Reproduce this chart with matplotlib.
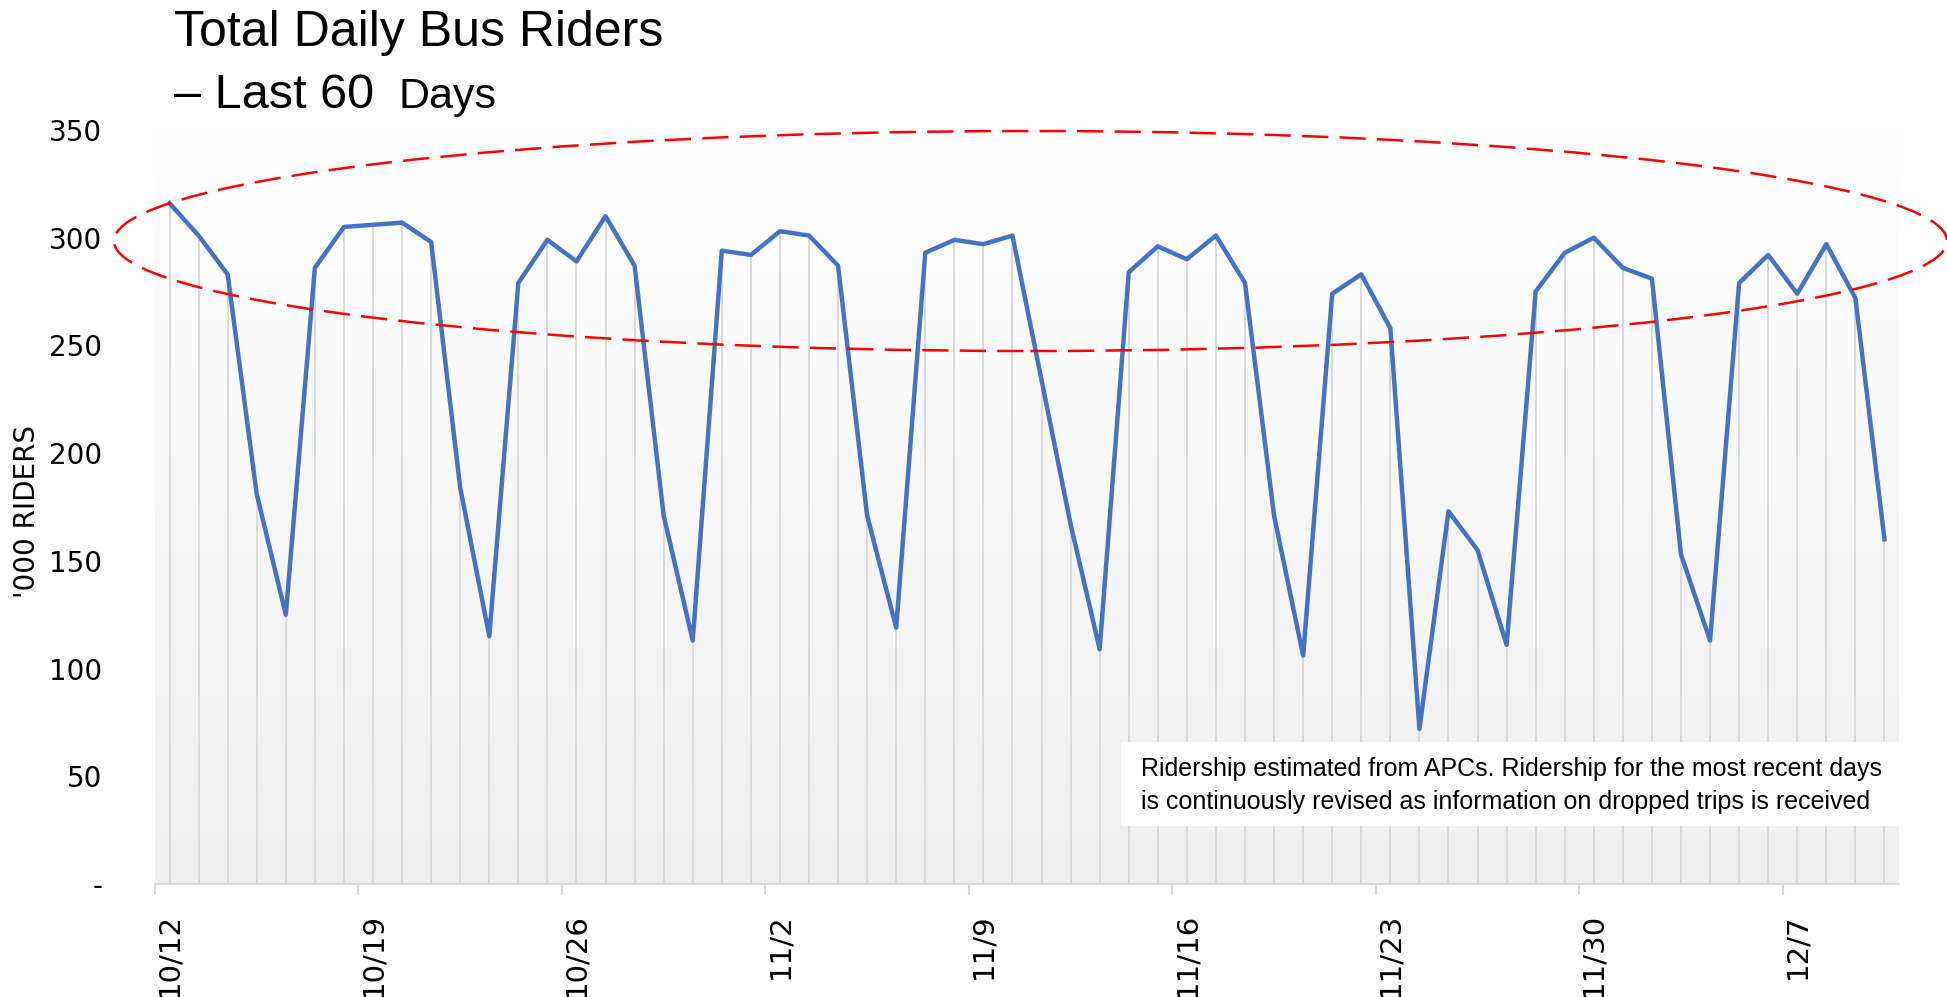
import matplotlib.pyplot as plt
import numpy as np
from matplotlib.colors import LinearSegmentedColormap
from matplotlib.patches import Ellipse, Rectangle

# daily riders ('000), 10/12 .. 12/10
riders = [316, 301, 283, 181, 125, 286, 305, 306, 307, 298,
          184, 115, 279, 299, 289, 310, 287, 171, 113, 294,
          292, 303, 301, 287, 171, 119, 293, 299, 297, 301,
          234, 167, 109, 284, 296, 290, 301, 279, 171, 106,
          274, 283, 258, 72, 173, 155, 111, 275, 293, 300,
          286, 281, 153, 113, 279, 292, 274, 297, 272, 160]
tick_labels = ["10/12", "10/19", "10/26", "11/2", "11/9", "11/16", "11/23", "11/30", "12/7"]
y_ticks = [0, 50, 100, 150, 200, 250, 300, 350]
y_tick_labels = ["-", "50", "100", "150", "200", "250", "300", "350"]

W, H = 1947, 997
fig = plt.figure(figsize=(W / 100, H / 100), dpi=100)
ax = fig.add_axes([155 / W, 1 - 884 / H, 1744 / W, 754 / H])

x = np.arange(len(riders))
n = len(riders)

# plot area gradient, white at top to light grey at bottom
bg = LinearSegmentedColormap.from_list("bg", ["#ffffff", "#efefef"])
grad = np.linspace(0, 1, 256).reshape(-1, 1)
ax.imshow(grad, extent=(-0.5, n - 0.5, 0, 350), aspect="auto", cmap=bg, zorder=0)

ax.vlines(x, 0, riders, colors="#d9d9d9", linewidth=1.4, zorder=1)
ax.plot(x, riders, color="#4472C4", linewidth=3.2, zorder=3)

ax.set_xlim(-0.5, n - 0.5)
ax.set_ylim(0, 350)
for s in ["left", "right", "top"]:
    ax.spines[s].set_visible(False)
ax.spines["bottom"].set_color("#d9d9d9")
ax.spines["bottom"].set_linewidth(1.5)

ax.set_yticks(y_ticks, y_tick_labels)
ax.tick_params(axis="y", length=0, pad=38, labelsize=20)

label_pos = x[::7]
ax.set_xticks(label_pos - 0.5, [""] * len(label_pos))
ax.tick_params(axis="x", which="major", length=8, width=1.5, color="#d9d9d9")
ax.set_xticks(label_pos, tick_labels, minor=True)
ax.tick_params(axis="x", which="minor", length=0, pad=21, labelsize=21, labelrotation=90)

fig.text(27 / W, 1 - 512 / H, "'000 RIDERS", rotation=90, ha="center", va="center", fontsize=20)

title_font = dict(family=["Liberation Sans", "DejaVu Sans"], color="black")
fig.text(174 / W, 1 - 46 / H, "Total Daily Bus Riders", fontsize=36, va="baseline", **title_font)
fig.text(174 / W, 1 - 108 / H, "\u2013 Last 60", fontsize=35, va="baseline", **title_font)
fig.text(398 / W, 1 - 108 / H, "Days", fontsize=31, va="baseline", **title_font)

# note box
ax.add_patch(Rectangle((0.554, 0.0769), 0.4467, 0.1114, transform=ax.transAxes,
                       facecolor="white", edgecolor="none", zorder=4))
ax.text(0.5654, 0.1306,
        "Ridership estimated from APCs. Ridership for the most recent days\n"
        "is continuously revised as information on dropped trips is received",
        transform=ax.transAxes, ha="left", va="center", fontsize=18, linespacing=1.5,
        zorder=5, **title_font)

# red dashed ellipse around the weekday peaks
ell = Ellipse((1030.5 / W, 1 - 241 / H), 1833 / W, 220 / H, transform=fig.transFigure,
              fill=False, edgecolor="red", linewidth=1.8, linestyle=(0, (10.5, 4.5)))
fig.add_artist(ell)

fig.savefig("out.png", dpi=100, facecolor="white")
